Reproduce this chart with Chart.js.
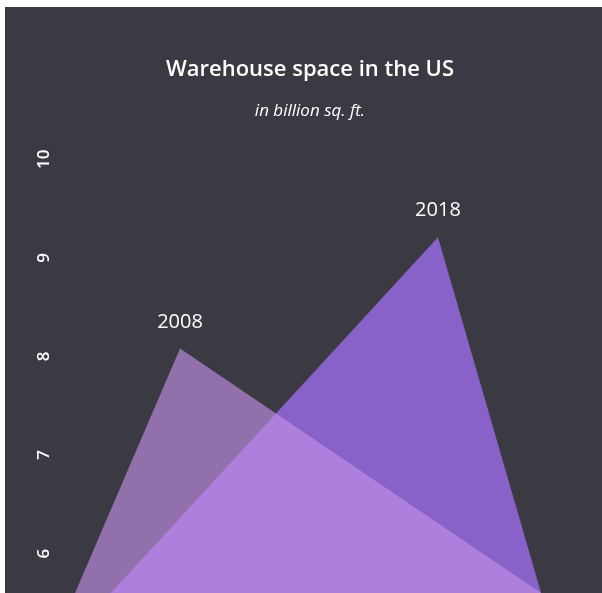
<!DOCTYPE html>
<html>
<head>
<meta charset="utf-8">
<title>Warehouse space in the US</title>
<script src="https://cdn.jsdelivr.net/npm/chart.js@4.4.1/dist/chart.umd.min.js"></script>
<style>
  html, body { margin: 0; padding: 0; background: #fff; }
  #wrap {
    position: absolute; left: 5px; top: 7px;
    width: 597px; height: 586px;
    background: #3b3a42;
  }
</style>
</head>
<body>
<div id="wrap"><canvas id="warehouseChart" width="597" height="586"></canvas></div>
<script>
// peak year and value (billion sq. ft.) for each period
const periods = ["2008", "2018"];
const peakYears = [2008, 2018];
const peakValues = [8.08, 9.21];
// where each triangle meets the bottom of the axis
const baseStart = [2003.93, 2005.32];
const baseEnd = [2022, 2022];
const yTicks = [6, 7, 8, 9, 10];

const yMin = 5.6;
const yMax = 10.38;
const fills = ["rgba(196, 144, 233, 0.63)", "rgb(136, 98, 200)"];

const datasets = periods.map((p, i) => ({
  label: p,
  data: [
    { x: baseStart[i], y: yMin },
    { x: peakYears[i], y: peakValues[i] },
    { x: baseEnd[i], y: yMin }
  ],
  backgroundColor: fills[i],
  borderWidth: 0,
  pointRadius: 0,
  tension: 0,
  fill: "start"
}));

// year label above each peak
const peakLabels = {
  id: "peakLabels",
  afterDatasetsDraw(chart) {
    const ctx = chart.ctx;
    ctx.save();
    ctx.fillStyle = "#ffffff";
    ctx.font = "20px 'Open Sans'";
    ctx.textAlign = "center";
    ctx.textBaseline = "alphabetic";
    chart.data.datasets.forEach((ds, i) => {
      const pt = chart.getDatasetMeta(i).data[1];
      ctx.fillText(ds.label, pt.x, pt.y - 21);
    });
    ctx.restore();
  }
};

new Chart(document.getElementById("warehouseChart"), {
  type: "line",
  data: { datasets },
  plugins: [peakLabels],
  options: {
    responsive: false,
    animation: false,
    layout: { padding: { left: 13, right: 0, top: 0, bottom: 0 } },
    plugins: {
      legend: { display: false },
      tooltip: { enabled: false },
      title: {
        display: true,
        text: "Warehouse space in the US",
        color: "#ffffff",
        font: { family: "'Open Sans'", size: 22, weight: 600 },
        padding: { top: 50, bottom: 18 }
      },
      subtitle: {
        display: true,
        text: "in billion sq. ft.",
        color: "#ffffff",
        font: { family: "'Open Sans'", size: 17, style: "italic" },
        padding: { top: 0, bottom: 0 }
      }
    },
    scales: {
      x: {
        type: "linear",
        display: false,
        min: 2003.23,
        max: 2024.36
      },
      y: {
        min: yMin,
        max: yMax,
        grid: { display: false, drawTicks: false },
        border: { display: false },
        ticks: {
          color: "#ffffff",
          font: { family: "'Open Sans'", size: 17, weight: 600 },
          // labels read bottom to top
          minRotation: 90,
          maxRotation: 90,
          crossAlign: "center",
          padding: 3
        },
        afterBuildTicks: s => { s.ticks = yTicks.map(v => ({ value: v })); },
        afterFit: s => { s.width = 39; s.paddingTop = 0; s.paddingBottom = 0; }
      }
    }
  }
});
</script>
</body>
</html>
